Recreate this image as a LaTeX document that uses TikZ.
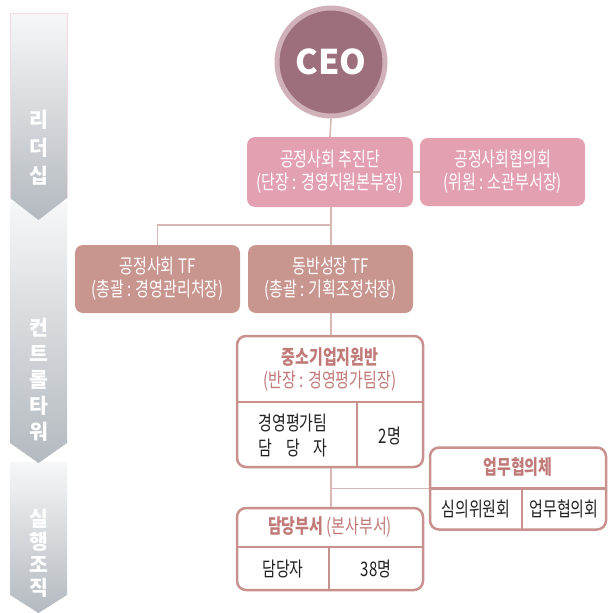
\documentclass[tikz,border=0pt]{standalone}
\usepackage{fontspec}
\setmainfont{Noto Sans CJK KR}
\newfontfamily\krn{Noto Sans CJK KR}[FakeStretch=0.75]
\definecolor{ceofill}{HTML}{9D6F7D}
\definecolor{ceoring}{HTML}{D0B0B9}
\definecolor{pinkbox}{HTML}{E3A0B1}
\definecolor{tfbox}{HTML}{C8958F}
\definecolor{boxline}{HTML}{C9918E}
\definecolor{headtext}{HTML}{C07A78}
\definecolor{conn}{HTML}{D8B8B6}
\definecolor{bantop}{HTML}{F6F7F8}
\definecolor{banbot}{HTML}{B3B9BF}
\definecolor{celltext}{HTML}{222222}
\begin{document}
\begin{tikzpicture}[x=1pt,y=-1pt,
  filled/.style={rectangle,rounded corners=8pt,inner sep=0pt,text=white,
     align=center,font=\krn\fontsize{20}{23}\selectfont},
  pinkstyle/.style={filled,fill=pinkbox},
  tfstyle/.style={filled,fill=tfbox},
  whitebox/.style={rectangle,rounded corners=9pt,draw=boxline,line width=2.5pt,fill=white,inner sep=0pt},
  divider/.style={draw=boxline,line width=2.5pt},
  connector/.style={draw=conn,line width=1.6pt},
  headlbl/.style={text=headtext,align=center,inner sep=0pt},
  celllbl/.style={text=celltext,align=center,inner sep=0pt,font=\krn\fontsize{20}{25}\selectfont},
  banlbl/.style={text=white,align=center,inner sep=0pt}]
\useasboundingbox (0,0) rectangle (608,613);
% left banner
\shade[top color=bantop,bottom color=banbot] (10,462) -- (67,462) -- (67,595) -- (38.5,613) -- (10,595) -- cycle;
\shade[top color=bantop,bottom color=banbot] (10,202) -- (67,202) -- (67,443) -- (38.5,463) -- (10,443) -- cycle;
\shade[top color=bantop,bottom color=banbot] (10,13) -- (67,13) -- (67,198) -- (38.5,220) -- (10,198) -- cycle;
\draw[draw=pinkbox!40,line width=0.6pt] (10,198) -- (10,13) -- (67,13) -- (67,198);
\node[banlbl,font=\bfseries\fontsize{20.5}{28}\selectfont] (b1) at (38.5,148) {리\\더\\십};
\node[banlbl,font=\bfseries\fontsize{20.5}{26}\selectfont] (b2) at (38.5,380) {컨\\트\\롤\\타\\워};
\node[banlbl,font=\bfseries\fontsize{20.5}{23}\selectfont] (b3) at (38.5,553) {실\\행\\조\\직};
% CEO
\node[circle,draw=ceoring,line width=5pt,fill=ceofill,minimum size=108pt,inner sep=0pt,
  text=white,font=\bfseries\fontsize{34}{34}\selectfont] (ceo) at (331,62) {CEO};
% pink boxes
\node[pinkstyle,minimum width=166pt,minimum height=70pt] (tuj) at (330,172) {공정사회 추진단\\(단장 : 경영지원본부장)};
\node[pinkstyle,minimum width=165pt,minimum height=68pt] (hyu) at (502.5,172) {공정사회협의회\\(위원 : 소관부서장)};
\node[tfstyle,minimum width=165pt,minimum height=68pt] (tf1) at (157.5,279) {공정사회 TF\\(총괄 : 경영관리처장)};
\node[tfstyle,minimum width=165pt,minimum height=68pt] (tf2) at (330.5,279) {동반성장 TF\\(총괄 : 기획조정처장)};
% white boxes
\node[whitebox,minimum width=186pt,minimum height=131pt] (jsg) at (330,401.5) {};
\node[whitebox,minimum width=176pt,minimum height=82pt] (ump) at (518,488.5) {};
\node[whitebox,minimum width=186pt,minimum height=82pt] (dd) at (330,549) {};
% dividers
\draw[divider] (jsg.west |- 0,402) -- (jsg.east |- 0,402);
\draw[divider] (357,402) -- (357 ,0 |- jsg.south);
\draw[divider] (ump.west |- 0,488.5) -- (ump.east |- 0,488.5);
\draw[divider] (522,488.5) -- (522,0 |- ump.south);
\draw[divider] (dd.west |- 0,547) -- (dd.east |- 0,547);
\draw[divider] (329,547) -- (329,0 |- dd.south);
% labels
\node[headlbl,font=\krn\fontsize{20}{23}\selectfont] (jsgh) at (330,369.5) {\textbf{중소기업지원반}\\(반장 : 경영평가팀장)};
\node[celllbl] (jsgc1) at (293,435.5) {경영평가팀\\담\hspace{14pt}당\hspace{14pt}자};
\node[celllbl] (jsgc2) at (390,435.5) {2명};
\node[headlbl,font=\krn\bfseries\fontsize{20}{20}\selectfont] (umph) at (518,467) {업무협의체};
\node[celllbl] (umpc1) at (476,509) {심의위원회};
\node[celllbl] (umpc2) at (564,509) {업무협의회};
\node[headlbl,font=\krn\fontsize{20}{20}\selectfont] (ddh) at (330,527) {\textbf{담당부서} (본사부서)};
\node[celllbl] (ddc1) at (283,569) {담당자};
\node[celllbl] (ddc2) at (376,569) {38명};
% connectors
\coordinate (j1) at (331,225);
\coordinate (j2) at (331,488.5);
\draw[connector] (ceo.south) -- (tuj.north);
\draw[connector] (tuj.east) -- (hyu.west);
\draw[connector] (tuj.south -| j1) -- (tf2.north -| j1);
\draw[connector] (tf1.north) |- (j1);
\draw[connector] (tf2.south -| j1) -- (jsg.north -| j1);
\draw[connector] (jsg.south -| j1) -- (dd.north -| j1);
\draw[connector] (j2) -- (ump.west);
\end{tikzpicture}
\end{document}
